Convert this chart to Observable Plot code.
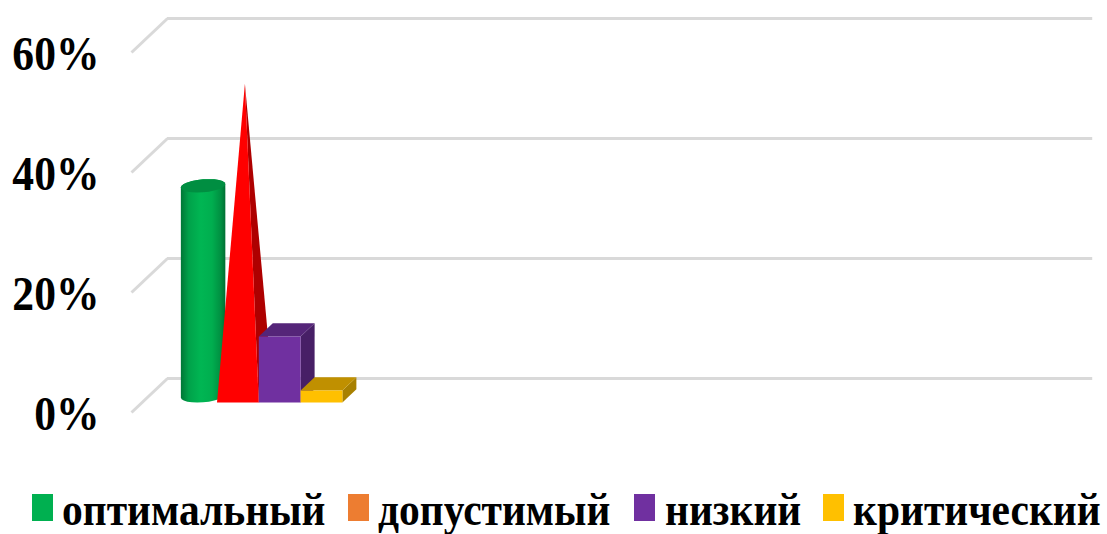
<!DOCTYPE html>
<html lang="ru">
<head>
<meta charset="utf-8">
<script src="https://cdn.jsdelivr.net/npm/d3@7"></script>
<script src="https://cdn.jsdelivr.net/npm/@observablehq/plot@0.6"></script>
<style>
html,body{margin:0;padding:0;background:#fff}
#wrap{position:relative;width:1107px;height:534px;overflow:hidden;font-family:"Liberation Serif",serif}
#wrap svg{display:block;background:#fff}
.sw{position:absolute;top:494px;width:21px;height:26.5px}
.lb{position:absolute;top:490px;font-weight:bold;font-size:41.5px;line-height:40px;color:#000;white-space:nowrap;transform-origin:0 50%;transform:scaleY(1.1)}
</style>
</head>
<body>
<div id="wrap"></div>
<script>
// Data
const categories = ["оптимальный", "допустимый", "низкий", "критический"];
const values = [35, 52, 11, 2];
const legendColors = ["#00B050", "#ED7D31", "#7030A0", "#FFC000"];
const ticks = [0, 20, 40, 60];

// Pseudo-3D geometry in data units (x: one unit = one bar slot, y: percent)
const depthX = 0.335, depthY = 2.22;
const wallFront = {x: -1.045, y: -1.667};
const wallBack = {x: -0.184, y: 4};
const wallEnd = 21.95;
const grid = "#d9d9d9";

const rows = [];
const face = (id, fill, pts) => pts.forEach(([x, y]) => rows.push({id, fill, x, y}));

// cone
{
  const [l, r, v] = [1, 2, values[1]];
  const apex = [l + 0.5 + depthX / 2, v + depthY / 2];
  face("cone-side", "#AE0000", [apex, [r, 0], [r + depthX, depthY]]);
  face("cone-front", "#FF0000", [[l, 0], [r, 0], apex]);
}
// boxes
[[2, "#7030A0", "#552579", "#471F66"], [3, "#FFC000", "#C09000", "#A88000"]].forEach(([i, front, top, side]) => {
  const v = values[i], l = i, r = i + 1;
  face(`box${i}-side`, side, [[r, 0], [r + depthX, depthY], [r + depthX, v + depthY], [r, v]]);
  face(`box${i}-top`, top, [[l, v], [r, v], [r + depthX, v + depthY], [l + depthX, v + depthY]]);
  face(`box${i}-front`, front, [[l, 0], [r, 0], [r, v], [l, v]]);
});

// cylinder outline: a tilted ellipse at the base and the top
const cx = 0.5 + depthX / 2, cw = 0.532, tilt = 0.29, ry = 1.08;
const angles = d3.range(0, 25).map(k => k * Math.PI / 12);
const rim = (c, t) => ({x: cx + cw * Math.cos(t), y: c + ry * Math.sin(t) + tilt * Math.cos(t)});
const cylBase = depthY / 2, cylTop = values[0] + depthY / 2;
const cylBody = [
  ...angles.slice(12, 25).map(t => rim(cylBase, t)),
  ...angles.slice(0, 13).map(t => rim(cylTop, t))
];
const cylCap = angles.map(t => rim(cylTop, t));

const defs = () => {
  const d = d3.create("svg:defs");
  const g = d.append("linearGradient").attr("id", "cyl");
  [[0, "#007636"], [0.18, "#00a24a"], [0.45, "#00B653"], [0.7, "#00AE4F"], [0.9, "#008F41"], [1, "#006F33"]]
    .forEach(([o, c]) => g.append("stop").attr("offset", o).attr("stop-color", c));
  return d.node();
};

const chart = Plot.plot({
  width: 1107,
  height: 470,
  marginLeft: 99,
  marginRight: 0,
  marginTop: 0,
  marginBottom: 0,
  x: {domain: [0, 22], range: [174.7, 1094.3], axis: null},
  y: {domain: [0, 60], range: [402, 42], axis: null},
  color: {type: "identity"},
  style: {background: "#fff"},
  marks: [
    defs,
    Plot.link(ticks, {
      x1: wallFront.x, x2: wallBack.x,
      y1: d => d + wallFront.y, y2: d => d + wallBack.y,
      stroke: grid, strokeWidth: 3
    }),
    Plot.ruleY(ticks, {y: d => d + wallBack.y, x1: wallBack.x, x2: wallEnd, stroke: grid, strokeWidth: 3}),
    Plot.axisY({
      anchor: "left", ticks, tickSize: 0, tickPadding: 0, label: null,
      tickFormat: d => d + "%", dy: 12,
      fontSize: 43.6, fontWeight: "bold", fontFamily: "Liberation Serif", fill: "#000"
    }),
    Plot.line(cylBody, {x: "x", y: "y", fill: "url(#cyl)", stroke: null}),
    Plot.line(cylCap, {x: "x", y: "y", fill: "#008E41", stroke: null}),
    Plot.line(rows, {x: "x", y: "y", z: "id", fill: "fill", stroke: null})
  ]
});

// vertical stretch of the tick labels, as in the reference
d3.select(chart).selectAll('g[aria-label="y-axis tick label"] text')
  .each(function () {
    const t = this.getAttribute("transform") || "";
    this.setAttribute("transform", t + " scale(1,1.12)");
  });

const wrap = document.getElementById("wrap");
wrap.appendChild(chart);

// legend
const swX = [32, 348, 634, 823];
const lbX = [62, 378, 665, 853];
categories.forEach((c, i) => {
  const s = document.createElement("div");
  s.className = "sw"; s.style.left = swX[i] + "px"; s.style.background = legendColors[i];
  wrap.appendChild(s);
  const t = document.createElement("div");
  t.className = "lb"; t.style.left = lbX[i] + "px"; t.textContent = c;
  wrap.appendChild(t);
});
</script>
</body>
</html>
